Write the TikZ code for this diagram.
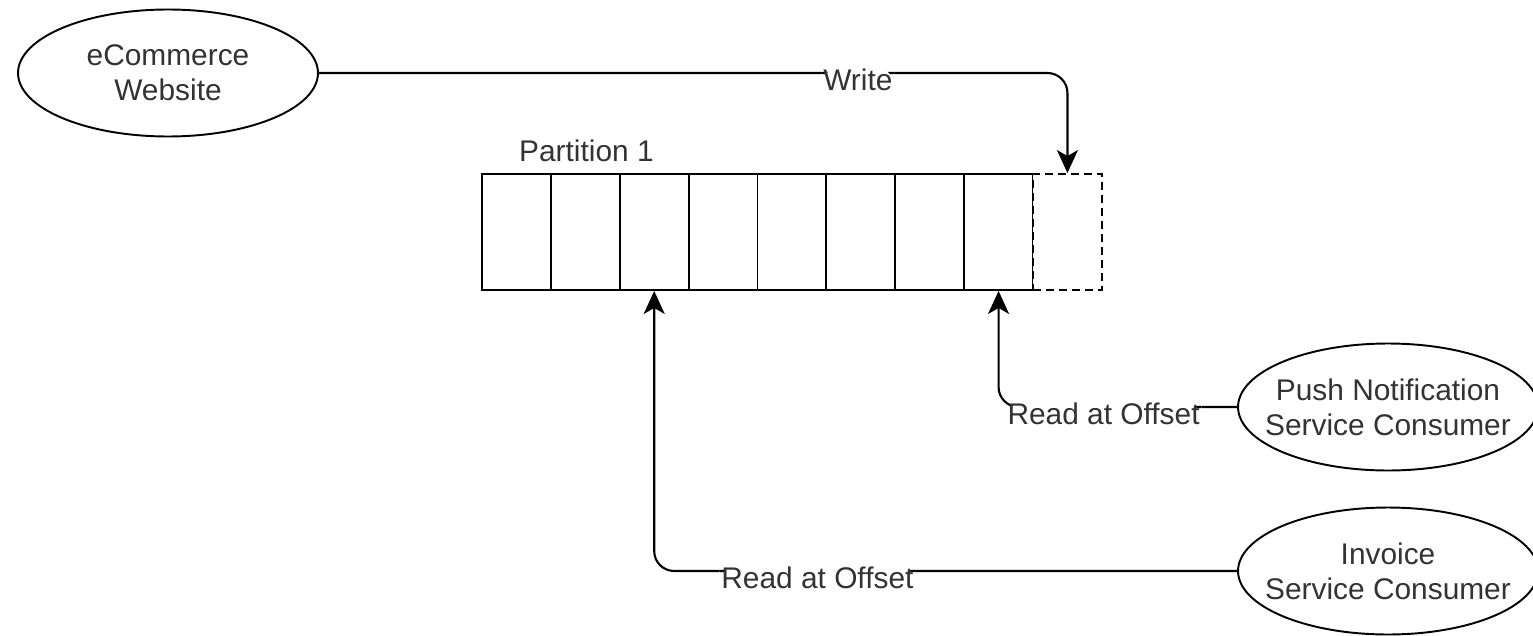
\documentclass[tikz,border=0pt]{standalone}
\usepackage{fontspec}
\setmainfont{Liberation Sans}
\usetikzlibrary{shapes.geometric,arrows.meta}

\tikzset{
  app/.style={ellipse, draw, line width=1.1pt, minimum width=6.0cm, minimum height=2.54cm,
    inner xsep=-0.5cm, inner ysep=0pt, align=center, text=black!80, font=\fontsize{17}{20}\selectfont},
  cell/.style={rectangle, draw, line width=1.1pt, minimum width=1.3775cm, minimum height=2.32cm, inner sep=0pt},
  link/.style={line width=1.2pt, rounded corners=0.4cm, -{Stealth[length=0.46cm,width=0.42cm,inset=0.12cm]}},
  lbl/.style={fill=white, inner sep=1pt, text=black!80, yshift=-0.13cm, font=\fontsize{17}{20}\selectfont}
}

\begin{document}
\begin{tikzpicture}[x=0.02cm, y=-0.02cm]
\useasboundingbox (0,0) rectangle (1533,635);

\node[app] (shop) at (168,73) {eCommerce\\Website};
\node[app] (push) at (1388,407) {Push Notification\\Service Consumer};
\node[app] (invoice) at (1388,571) {Invoice\\Service Consumer};

% the partition log
\foreach \i in {1,...,8}
  \node[cell] (c\i) at ({482+68.875*(\i-0.5)},232) {};
\node[cell, dashed, dash pattern=on 0.16cm off 0.1cm, fill=white] (c9) at ({482+68.875*8.5},232) {};
\node[anchor=base west, text=black!80, font=\fontsize{17}{20}\selectfont] (part) at (513,161) {Partition 1};

\draw[link] (shop.east) -| (c9.north) node[lbl, pos=0.36] {Write};
\draw[link] (push.west) -| (c8.south) node[lbl, pos=0.28] {Read at Offset};
\draw[link] (invoice.west) -| (c3.south) node[lbl, pos=0.36] {Read at Offset};
\end{tikzpicture}
\end{document}
